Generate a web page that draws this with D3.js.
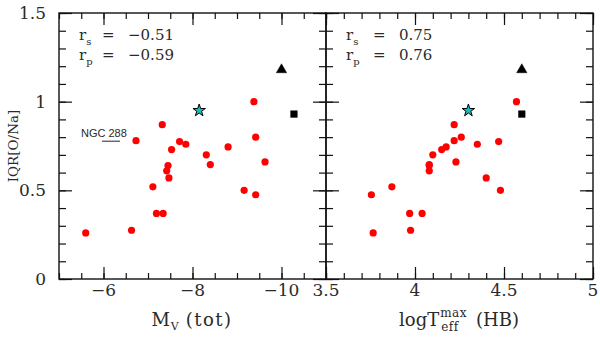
<!DOCTYPE html>
<html><head><meta charset="utf-8">
<script src="https://cdn.jsdelivr.net/npm/d3@7"></script>
<style>
body{margin:0;background:#fff}
svg{display:block}
text{font-family:"DejaVu Serif","Liberation Serif",serif;fill:#2a2a2a}
</style></head>
<body><svg id="c" width="600" height="339"></svg>
<script>
// ---- data ----
const iqrONa = [1.00,0.87,0.80,0.78,0.775,0.76,0.745,0.73,0.70,0.66,0.645,0.64,0.61,0.57,0.52,0.50,0.475,0.37,0.37,0.275,0.26];
const mvTot  = [-9.38,-7.32,-9.42,-6.73,-7.71,-7.85,-8.80,-7.53,-8.31,-9.63,-8.40,-7.45,-7.42,-7.47,-7.11,-9.16,-9.42,-7.19,-7.34,-6.63,-5.60];
const logTeff= [4.57,4.22,4.26,4.22,4.47,4.35,4.175,4.15,4.10,4.23,4.08,4.08,4.08,4.40,3.87,4.48,3.755,3.97,4.04,3.975,3.765];
const specialNames = ["star","triangle","square"];
const specialIqr = [0.95,1.18,0.93];
const specialMv  = [-8.15,-10.0,-10.28];
const specialLogT= [4.30,4.60,4.60];
const labelGC = "NGC 288";
const labelIdx = 3;
const corrLeft = ["\u22120.51","\u22120.59"];
const corrRight = ["0.75","0.76"];
const yTicks = [0,0.5,1,1.5];
const xTicksLeft = [-6,-8,-10];
const xTicksRight = [3.5,4,4.5,5];

// ---- layout ----
const svg = d3.select("#c");
const pTop=13, pBot=279, L0=59, L1=326, R0=326, R1=593;
const y = d3.scaleLinear().domain([0,1.5]).range([pBot,pTop]);
const xL = d3.scaleLinear().domain([-5,-11]).range([L0,L1]);
const xR = d3.scaleLinear().domain([3.5,5]).range([R0,R1]);
const fmt = v => (v<0?"\u2212":"")+Math.abs(v);

function panel(x, x0, x1, majX, minX, xLabels, showY){
  const g = svg.append("g");
  const tk = (sel)=>{ sel.select(".domain").remove(); sel.selectAll("text").remove(); };
  [[majX,12],[minX,6]].forEach(([vals,len])=>{
    g.append("g").attr("transform",`translate(0,${pBot})`)
      .call(d3.axisBottom(x).tickValues(vals).tickSize(-len)).call(tk);
    g.append("g").attr("transform",`translate(0,${pTop})`)
      .call(d3.axisTop(x).tickValues(vals).tickSize(-len)).call(tk);
  });
  const majY=d3.range(0,1.51,0.5), minY=d3.range(0,1.51,0.1);
  [[majY,13],[minY,7]].forEach(([vals,len])=>{
    g.append("g").attr("transform",`translate(${x0},0)`)
      .call(d3.axisLeft(y).tickValues(vals).tickSize(-len)).call(tk);
    g.append("g").attr("transform",`translate(${x1},0)`)
      .call(d3.axisRight(y).tickValues(vals).tickSize(-len)).call(tk);
  });
  g.selectAll("line").attr("stroke","#111").attr("stroke-width",1.2);
  g.append("rect").attr("x",x0).attr("y",pTop).attr("width",x1-x0).attr("height",pBot-pTop)
    .attr("fill","none").attr("stroke","#111").attr("stroke-width",1.4);
  g.selectAll(".xl").data(xLabels).join("text")
    .attr("x",d=>x(d)).attr("y",296).attr("text-anchor","middle")
    .attr("font-size",17).text(fmt);
  if(showY){
    g.selectAll(".yl").data(yTicks).join("text")
      .attr("x",x0-13).attr("y",d=>y(d)).attr("dy","0.36em").attr("text-anchor","end")
      .attr("font-size",17).text(d=>d);
  }
  return g;
}
const minorL = d3.range(-5,-11.01,-0.5), minorR = d3.range(3.5,5.01,0.1);
panel(xL,L0,L1,[-6,-8,-10],minorL,xTicksLeft,true);
panel(xR,R0,R1,[3.5,4,4.5,5],minorR,xTicksRight,false);

// correlation text
function corr(x0, vals, eqOff, valOff){
  ["s","p"].forEach((sub,i)=>{
    const by = 40+i*20;
    const t = svg.append("text").attr("x",x0+20).attr("y",by).attr("font-size",15);
    t.append("tspan").text("r");
    t.append("tspan").attr("font-size",10).attr("dy",5).text(sub);
    svg.append("text").attr("x",x0+eqOff).attr("y",by).attr("font-size",15).text("=");
    svg.append("text").attr("x",x0+valOff).attr("y",by).attr("font-size",15).text(vals[i]);
  });
}
corr(L0,corrLeft,43,69);
corr(R0,corrRight,47,73);

// points
function drawPts(x, xs){
  svg.append("g").selectAll("circle").data(iqrONa).join("circle")
    .attr("cx",(d,i)=>x(xs[i])).attr("cy",d=>y(d)).attr("r",3.6).attr("fill","#f00");
}
drawPts(xL,mvTot); drawPts(xR,logTeff);
function drawSpecial(x, xs){
  const sym = {star:d3.symbolStar,triangle:d3.symbolTriangle,square:d3.symbolSquare};
  const size = {star:48,triangle:46,square:44};
  specialNames.forEach((n,i)=>{
    svg.append("path").attr("d",d3.symbol(sym[n],size[n])())
      .attr("transform",`translate(${x(xs[i])},${y(specialIqr[i])})`)
      .attr("fill",n==="star"?"#1cbdbd":"#000")
      .attr("stroke","#000").attr("stroke-width",n==="star"?1:0.5);
  });
}
drawSpecial(xL,specialMv); drawSpecial(xR,specialLogT);

// NGC 288 label
const lx = xL(mvTot[labelIdx])-55, ly = y(iqrONa[labelIdx])-4;
svg.append("text").attr("x",lx).attr("y",ly).attr("font-size",11)
  .style("font-family","'Liberation Sans',Arial,sans-serif").text(labelGC);
svg.append("line").attr("x1",lx+21).attr("x2",lx+39).attr("y1",ly+4.5).attr("y2",ly+4.5)
  .attr("stroke","#222").attr("stroke-width",1);

// axis titles
const g1 = svg.append("g");
const mm = g1.append("text").attr("x",0).attr("y",326).attr("font-size",18).text("M");
const wM = mm.node().getComputedTextLength();
const vv = g1.append("text").attr("x",wM+1).attr("y",330).attr("font-size",11).text("V");
const wV = vv.node().getComputedTextLength();
const tt = g1.append("text").attr("x",wM+wV+8).attr("y",326).attr("font-size",18)
  .attr("letter-spacing",1.5).text("(tot)");
const tot1 = wM+wV+8+tt.node().getComputedTextLength();
g1.attr("transform",`translate(${192-tot1/2},0)`);

const g2 = svg.append("g");
const a = g2.append("text").attr("x",0).attr("y",326).attr("font-size",18).text("logT");
const wa = a.node().getComputedTextLength();
const m = g2.append("text").attr("x",wa+1).attr("y",317).attr("font-size",12).attr("letter-spacing",0.5).text("max");
const e = g2.append("text").attr("x",wa+2).attr("y",331).attr("font-size",12).attr("letter-spacing",0.5).text("eff");
const wm = Math.max(m.node().getComputedTextLength(), e.node().getComputedTextLength());
const h = g2.append("text").attr("x",wa+wm+10).attr("y",326).attr("font-size",18).text("(HB)");
const tot = wa+wm+10+h.node().getComputedTextLength();
g2.attr("transform",`translate(${459-tot/2},0)`);

svg.append("text").attr("transform",`translate(18,${(pTop+pBot)/2}) rotate(-90)`)
  .attr("text-anchor","middle").attr("font-size",13.5).text("IQR[O/Na]");
</script></body></html>
